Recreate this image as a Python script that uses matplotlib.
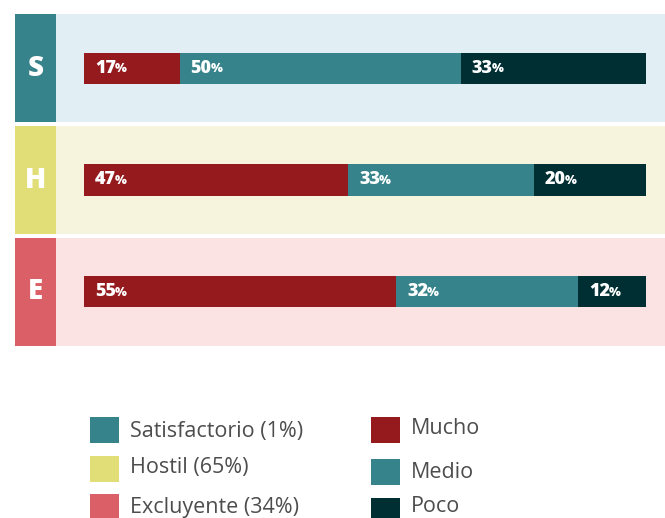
import matplotlib
matplotlib.use('Agg')
from matplotlib import pyplot as plt
from matplotlib.patches import Rectangle

# groups (top to bottom) and their share in the legend
groups = ['S', 'H', 'E']
group_names = ['Satisfactorio', 'Hostil', 'Excluyente']
group_share = [1, 65, 34]

# answer levels for each group, in percent
levels = ['Mucho', 'Medio', 'Poco']
values = {
    'S': [17, 50, 33],
    'H': [47, 33, 20],
    'E': [55, 32, 12],
}

group_colors = ['#37838b', '#e1de78', '#db5f67']
panel_colors = ['#e1eef3', '#f6f4dc', '#fbe3e3']
level_colors = ['#951a1d', '#37838b', '#002f33']

W, H = 665, 518
fig = plt.figure(figsize=(W / 100, H / 100), dpi=100)

# axes spans the three panels; x is percent of the bar, y is the row index
ax = fig.add_axes([15 / W, (H - 346) / H, 650 / W, 332 / H])
x0, x1 = -12.28, 103.38
ax.set_xlim(x0, x1)
ax.set_ylim(2.485, -0.485)
ax.axis('off')

block_w = 7.3
row_h = 0.97
bar_h = 0.28

for i, g in enumerate(groups):
    ax.add_patch(Rectangle((x0, i - row_h / 2), block_w, row_h,
                           color=group_colors[i], lw=0))
    ax.add_patch(Rectangle((x0 + block_w, i - row_h / 2), x1 - x0 - block_w, row_h,
                           color=panel_colors[i], lw=0))
    ax.text(x0 + block_w / 2, i, g, ha='center', va='center', color='white',
            fontsize=20, fontweight='heavy', family='Open Sans')

    vals = values[g]
    total = sum(vals)
    left = 0
    for j, v in enumerate(vals):
        w = v / total * 100
        ax.barh(i, w, left=left, height=bar_h, color=level_colors[j], lw=0)
        t = ax.annotate(str(v), xy=(left, i), xytext=(11, 0),
                        textcoords='offset pixels', ha='left', va='center',
                        color='white', fontsize=13, fontweight='heavy',
                        family='Open Sans')
        ax.annotate('%', xy=(1, 0.1), xycoords=t, xytext=(-1, 0),
                    textcoords='offset pixels', ha='left', va='bottom',
                    color='white', fontsize=9, fontweight='heavy',
                    family='Open Sans')
        left += w

# legend, drawn as two columns of swatches
def swatch(x, y, ty, color, label):
    fig.patches.append(Rectangle((x / W, 1 - (y + 26) / H), 29 / W, 26 / H,
                                 color=color, lw=0, transform=fig.transFigure,
                                 figure=fig))
    fig.text((x + 40) / W, 1 - ty / H, label, ha='left', va='center',
             color='#4d4d4d', fontsize=15.5, family='Open Sans')

for k, name in enumerate(group_names):
    swatch(90, [417, 456, 494][k], [431, 468, 507][k], group_colors[k],
           f'{name} ({group_share[k]}%)')

for k, name in enumerate(levels):
    swatch(371, [417, 459, 498][k], [429, 473, 507][k], level_colors[k], name)

fig.savefig('out.png', dpi=100)
